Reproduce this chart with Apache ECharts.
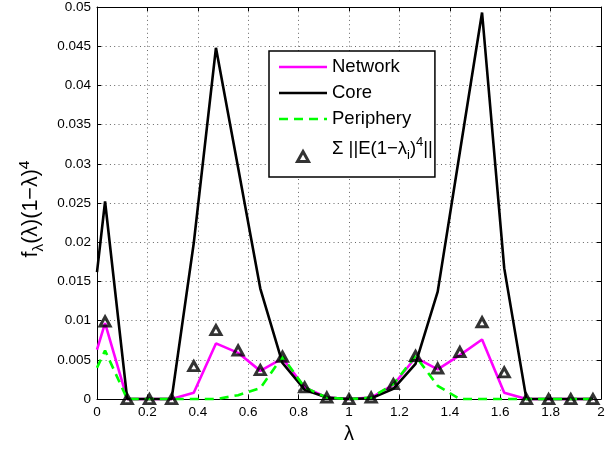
<!DOCTYPE html>
<html>
<head>
<meta charset="utf-8">
<script src="https://cdn.jsdelivr.net/npm/echarts@6/dist/echarts.min.js"></script>
<style>
html,body{margin:0;padding:0;background:#fff;}
#chart{width:613px;height:449px;}
</style>
</head>
<body>
<div id="chart"></div>
<script>
// eigenvalue positions of the markers
const lambdaPts = [0.032, 0.12, 0.208, 0.296, 0.384, 0.472, 0.56, 0.648, 0.736, 0.824, 0.912, 1.0,
                   1.088, 1.176, 1.264, 1.352, 1.44, 1.528, 1.616, 1.704, 1.792, 1.88, 1.968];
// line curves start at lambda = 0
const lambdaLine = [0].concat(lambdaPts);

const networkVals   = [0.0063, 0.0097, 0, 0, 0, 0.0008, 0.0071, 0.0059, 0.0036, 0.0052, 0.0015, 0.0002, 0,
                       0.0002, 0.0018, 0.0053, 0.0038, 0.0056, 0.0076, 0.0008, 0, 0, 0, 0];
const coreVals      = [0.0162, 0.0252, 0, 0, 0, 0.0199, 0.0448, 0.0295, 0.0141, 0.0046, 0.0012, 0.0002, 0,
                       0.0001, 0.0013, 0.0045, 0.0137, 0.0315, 0.0493, 0.0167, 0, 0, 0, 0];
const peripheryVals = [0.0040, 0.0062, 0, 0, 0, 0, 0, 0.0005, 0.0014, 0.0054, 0.0015, 0.0002, 0,
                       0.0002, 0.0019, 0.0055, 0.0017, 0, 0, 0, 0, 0, 0, 0];
const sigmaVals     = [0.0099, 0, 0, 0, 0.0042, 0.0088, 0.0062, 0.0037, 0.0054, 0.0015, 0.0002, 0,
                       0.0002, 0.0019, 0.0055, 0.0039, 0.0060, 0.0098, 0.0034, 0, 0, 0, 0];

const seriesNames = ['Network', 'Core', 'Periphery', 'Sigma'];

const zip = (xs, ys) => xs.map((x, i) => [x, ys[i]]);
const FONT = '"Liberation Sans", Arial, Helvetica, sans-serif';
const GREEN = '#00ff00';

const chart = echarts.init(document.getElementById('chart'), null, {renderer: 'canvas'});

const axisCommon = {
  axisLine: {show: true, onZero: false, lineStyle: {color: '#000', width: 1}},
  axisTick: {show: true, inside: true, length: 4, lineStyle: {color: '#000', width: 1}}
};

const SOLID_ICON = 'path://M0,0H48V2.6H0Z';
const DASH_ICON = 'path://M0,0H9V2.6H0Z M15,0H24V2.6H15Z M30,0H39V2.6H30Z M45,0H48V2.6H45Z';
const TRI_ICON = 'path://M5,0L10,9L0,9Z';

chart.setOption({
  animation: false,
  backgroundColor: '#fff',
  grid: {left: 97, right: 12, top: 7, bottom: 43, show: false},
  xAxis: [
    Object.assign({
      type: 'value', min: 0, max: 2, interval: 0.2, position: 'bottom',
      name: 'λ', nameLocation: 'middle', nameGap: 22,
      nameTextStyle: {fontFamily: FONT, fontSize: 20, color: '#000'},
      axisLabel: {color: '#000', fontFamily: FONT, fontSize: 13.5, margin: 6},
      splitLine: {show: true, lineStyle: {color: '#666', width: 1, type: [1, 3.3]}}
    }, axisCommon),
    Object.assign({
      type: 'value', min: 0, max: 2, interval: 0.2, position: 'top',
      axisLabel: {show: false}, splitLine: {show: false}
    }, axisCommon)
  ],
  yAxis: [
    Object.assign({
      type: 'value', min: 0, max: 0.05, interval: 0.005, position: 'left',
      name: '{m|f}{s|λ}{m|(λ)(1−λ)}{p|4}',
      nameLocation: 'middle', nameGap: 42, nameRotate: 90,
      nameTextStyle: {
        color: '#000', fontFamily: FONT, padding: [0, 12, 0, 0],
        rich: {
          m: {fontFamily: FONT, fontSize: 21.5, color: '#000', lineHeight: 30, verticalAlign: 'middle'},
          s: {fontFamily: FONT, fontSize: 15.5, color: '#000', lineHeight: 14, verticalAlign: 'bottom'},
          p: {fontFamily: FONT, fontSize: 15.5, color: '#000', lineHeight: 14, verticalAlign: 'top'}
        }
      },
      axisLabel: {
        color: '#000', fontFamily: FONT, fontSize: 13.5, margin: 6,
        formatter: v => String(+v.toFixed(4))
      },
      splitLine: {show: true, lineStyle: {color: '#666', width: 1, type: [1, 3.3]}}
    }, axisCommon),
    Object.assign({
      type: 'value', min: 0, max: 0.05, interval: 0.005, position: 'right',
      axisLabel: {show: false}, splitLine: {show: false}
    }, axisCommon)
  ],
  legend: {
    orient: 'vertical', left: 269, top: 51,
    backgroundColor: '#fff', borderColor: '#000', borderWidth: 1.5,
    padding: [6, 2, 5, 10], itemGap: 6, itemWidth: 48, itemHeight: 10,
    symbolKeepAspect: true,
    textStyle: {fontFamily: FONT, fontSize: 18.5, color: '#000', lineHeight: 20},
    formatter: function (name) {
      if (name === 'Sigma') return '{n|Σ ||E(1−λ}{sb|i}{n|)}{sp|4}{n|||}';
      return name;
    },
    data: [
      {name: 'Network', icon: SOLID_ICON, itemStyle: {color: '#ff00ff', borderWidth: 0}},
      {name: 'Core', icon: SOLID_ICON, itemStyle: {color: '#000', borderWidth: 0}},
      {name: 'Periphery', icon: DASH_ICON, itemStyle: {color: GREEN, borderWidth: 0}},
      {
        name: 'Sigma', icon: TRI_ICON,
        itemStyle: {color: 'rgba(0,0,0,0)', borderColor: '#000', borderWidth: 3},
        textStyle: {
          padding: [0, 0, 16, 0], lineHeight: 15,
          rich: {
            n: {fontFamily: FONT, fontSize: 18.5, color: '#000', lineHeight: 15, verticalAlign: 'middle'},
            sb: {fontFamily: FONT, fontSize: 13, color: '#000', lineHeight: 1, verticalAlign: 'middle', padding: [14, 0, 0, 0]},
            sp: {fontFamily: FONT, fontSize: 13, color: '#000', lineHeight: 1, verticalAlign: 'middle', padding: [0, 0, 12, 0]}
          }
        }
      }
    ]
  },
  series: [
    {
      name: seriesNames[0], type: 'line', symbol: 'none',
      data: zip(lambdaLine, networkVals),
      lineStyle: {color: '#ff00ff', width: 2.6}, itemStyle: {color: '#ff00ff'}, z: 2
    },
    {
      name: seriesNames[1], type: 'line', symbol: 'none',
      data: zip(lambdaLine, coreVals),
      lineStyle: {color: '#000', width: 2.6}, itemStyle: {color: '#000'}, z: 3
    },
    {
      name: seriesNames[2], type: 'line', symbol: 'none',
      data: zip(lambdaLine, peripheryVals),
      lineStyle: {color: GREEN, width: 2.6, type: [9, 6]}, itemStyle: {color: GREEN}, z: 4
    },
    {
      name: seriesNames[3], type: 'scatter', symbol: 'triangle', symbolSize: [10, 9],
      data: zip(lambdaPts, sigmaVals),
      itemStyle: {color: 'rgba(0,0,0,0)', borderColor: '#000', borderWidth: 3}, z: 5
    }
  ]
});
</script>
</body>
</html>
